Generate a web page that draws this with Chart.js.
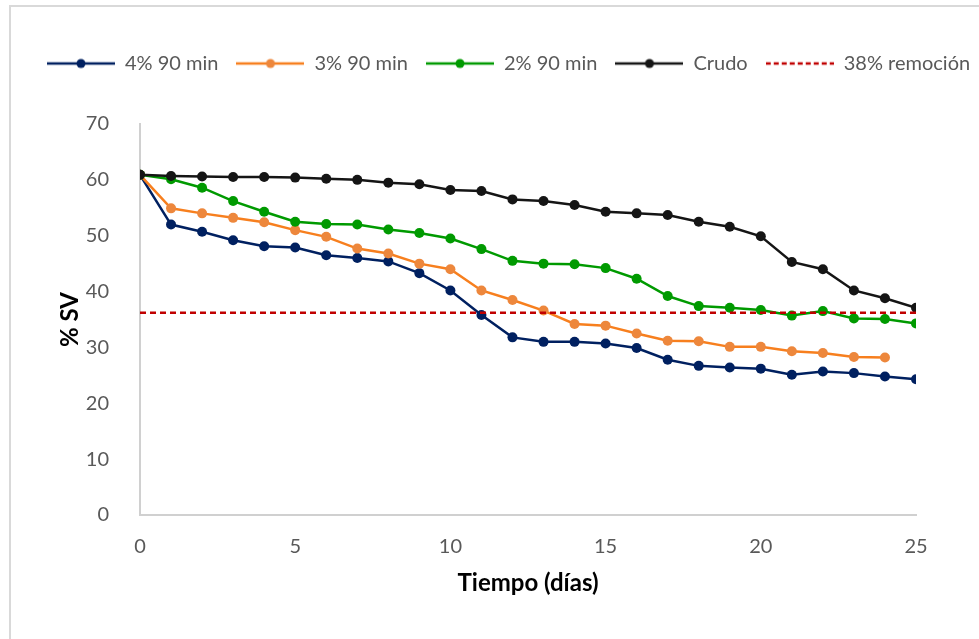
<!DOCTYPE html>
<html>
<head>
<meta charset="utf-8">
<script src="https://cdn.jsdelivr.net/npm/chart.js@4"></script>
<style>
  body { margin: 0; background: #fff; }
  #frame { position: absolute; left: 9px; top: 5px; width: 1000px; height: 700px;
           border-left: 2px solid #d9d9d9; border-top: 2px solid #d9d9d9; }
  #wrap { position: absolute; left: 0; top: 0; width: 979px; height: 639px; }
</style>
</head>
<body>
<div id="frame"></div>
<div id="wrap"><canvas id="myChart" width="979" height="639"></canvas></div>
<script>
// datos
const days = [0, 1, 2, 3, 4, 5, 6, 7, 8, 9, 10, 11, 12, 13, 14, 15, 16, 17, 18, 19, 20, 21, 22, 23, 24, 25];
const sv4 = [60.9, 52.0, 50.7, 49.2, 48.1, 47.9, 46.5, 46.0, 45.4, 43.3, 40.2, 35.8, 31.8, 31.0, 31.0, 30.7, 29.9, 27.8, 26.7, 26.4, 26.2, 25.1, 25.7, 25.4, 24.8, 24.3];
const sv3 = [60.9, 54.9, 54.0, 53.2, 52.4, 51.0, 49.8, 47.7, 46.8, 45.0, 44.0, 40.2, 38.5, 36.6, 34.2, 33.9, 32.5, 31.2, 31.1, 30.1, 30.1, 29.3, 29.0, 28.3, 28.2];
const sv2 = [60.9, 60.1, 58.6, 56.2, 54.3, 52.5, 52.1, 52.0, 51.1, 50.5, 49.5, 47.6, 45.5, 45.0, 44.9, 44.2, 42.3, 39.2, 37.4, 37.1, 36.7, 35.7, 36.5, 35.2, 35.1, 34.3];
const crudo = [60.9, 60.7, 60.6, 60.5, 60.5, 60.4, 60.2, 60.0, 59.5, 59.2, 58.2, 58.0, 56.5, 56.2, 55.5, 54.3, 54.0, 53.7, 52.5, 51.6, 49.9, 45.3, 44.0, 40.2, 38.8, 37.1];
const remocion = 36.2;
const seriesNames = ['4% 90 min', '3% 90 min', '2% 90 min', 'Crudo', '38% remoción'];
const xTicks = [0, 5, 10, 15, 20, 25];
const yTicks = [0, 10, 20, 30, 40, 50, 60, 70];

function toPoints(values) {
    return values.map((v, i) => ({ x: days[i], y: v }));
}

// icono de leyenda: linea con circulo (estilo Excel)
function legendIcon(lineColor, dotColor, dashed) {
    const c = document.createElement('canvas');
    c.width = 68; c.height = 12;
    const g = c.getContext('2d');
    g.strokeStyle = lineColor;
    g.lineWidth = 2.5;
    if (dashed) g.setLineDash([5, 3]);
    g.beginPath(); g.moveTo(0, 6); g.lineTo(68, 6); g.stroke();
    if (dotColor) {
        g.fillStyle = dotColor;
        g.beginPath(); g.arc(34, 6, 4.5, 0, Math.PI * 2); g.fill();
    }
    return c;
}

function lineSet(label, values, lineColor, dotColor, order) {
    return {
        label: label,
        data: toPoints(values),
        borderColor: lineColor,
        backgroundColor: dotColor,
        pointBackgroundColor: dotColor,
        pointBorderColor: dotColor,
        borderWidth: 2.5,
        pointRadius: 5,
        pointBorderWidth: 0,
        tension: 0,
        order: order,
        icon: legendIcon(lineColor, dotColor, false)
    };
}

// la leyenda ocupa todo el ancho y deja hueco hasta el area del grafico
const legendFix = {
    id: 'legendFix',
    beforeLayout(chart) {
        const lg = chart.legend;
        if (lg && !lg._patched) {
            const fit = lg.fit;
            lg.fit = function () {
                this.maxWidth = 979;
                fit.call(this);
                this.height += 40.5;
            };
            lg._patched = true;
        }
    },
    afterLayout(chart) {
        const lg = chart.legend;
        const pad = lg.options.labels.padding;
        lg.right = 1200;
        lg.left = 2 * 47 - pad + lg.lineWidths[0] - lg.right;
    }
};

function showChart() {
    const ctx = document.getElementById('myChart').getContext('2d');
    const datasets = [
        lineSet(seriesNames[0], sv4, '#002060', '#002060', 4),
        lineSet(seriesNames[1], sv3, '#F77F1E', '#ED873C', 3),
        lineSet(seriesNames[2], sv2, '#009A00', '#009A00', 2),
        lineSet(seriesNames[3], crudo, '#151515', '#151515', 1),
        {
            label: seriesNames[4],
            data: [{ x: days[0], y: remocion }, { x: days[days.length - 1], y: remocion }],
            borderColor: '#C00000',
            borderWidth: 2.5,
            borderDash: [6, 4],
            pointRadius: 0,
            order: 0,
            icon: legendIcon('#C00000', null, true)
        }
    ];

    new Chart(ctx, {
        type: 'line',
        data: { datasets: datasets },
        plugins: [legendFix],
        options: {
            responsive: false,
            animation: false,
            layout: { padding: { top: 35.5, right: 63, bottom: 0, left: 0 } },
            plugins: {
                tooltip: { enabled: false },
                legend: {
                    position: 'top',
                    reverse: true,
                    labels: {
                        usePointStyle: true,
                        pointStyleWidth: 68,
                        padding: 18,
                        color: '#595959',
                        font: { family: 'Lato', size: 20 },
                        generateLabels(chart) {
                            const items = Chart.defaults.plugins.legend.labels.generateLabels(chart);
                            items.forEach(it => { it.pointStyle = chart.data.datasets[it.datasetIndex].icon; });
                            return items;
                        }
                    }
                }
            },
            scales: {
                x: {
                    type: 'linear',
                    min: 0,
                    max: 25,
                    afterFit(scale) { scale.height = 124; },
                    afterBuildTicks(scale) { scale.ticks = xTicks.map(v => ({ value: v })); },
                    grid: { display: false },
                    border: { display: true, color: '#d0d0d0', width: 2 },
                    ticks: { color: '#595959', padding: 12, font: { family: 'Lato', size: 20 } },
                    title: {
                        display: true,
                        text: 'Tiempo (días)',
                        color: '#000',
                        font: { family: 'Lato', size: 24, weight: 'bold' },
                        padding: { top: 0, bottom: 41.6 }
                    }
                },
                y: {
                    min: 0,
                    max: 70,
                    afterFit(scale) { scale.width = 140; },
                    afterBuildTicks(scale) { scale.ticks = yTicks.map(v => ({ value: v })); },
                    grid: { display: false },
                    border: { display: true, color: '#d0d0d0', width: 2 },
                    ticks: { color: '#595959', padding: 23, font: { family: 'Lato', size: 20 } },
                    title: {
                        display: true,
                        text: '% SV',
                        color: '#000',
                        font: { family: 'Lato', size: 24, weight: 'bold' },
                        padding: { top: 55.6, bottom: 0 }
                    }
                }
            }
        }
    });
}

document.addEventListener('DOMContentLoaded', (event) => {
    showChart();
});
</script>
</body>
</html>
